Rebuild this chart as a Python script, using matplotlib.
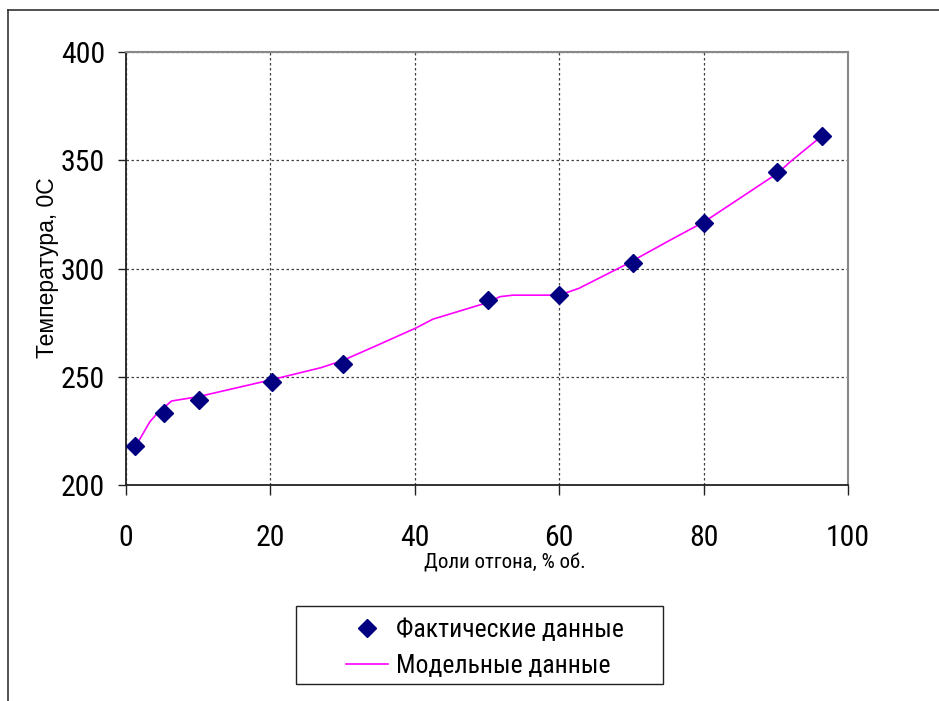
import numpy as np
import matplotlib
matplotlib.use("Agg")
import matplotlib.pyplot as plt
from matplotlib import font_manager
from matplotlib.lines import Line2D
from matplotlib.patches import Rectangle

# Фактические данные (measured points)
fact_x = [1.2, 5.3, 10.1, 20.2, 30.1, 50.2, 60.0, 70.2, 80.1, 90.2, 96.4]
fact_y = [218.0, 233.4, 239.2, 247.7, 256.0, 285.3, 287.7, 302.6, 321.0, 344.5, 361.3]

# Модельные данные (model curve)
model_x = [1.7, 3.3, 4.3, 6.3, 10.0, 20.0, 27.0, 30.0, 34.3, 40.2, 42.5, 50.0,
           51.8, 53.6, 60.0, 62.7, 69.1, 75.3, 80.1, 90.2, 92.0, 96.4]
model_y = [220.0, 229.2, 233.0, 238.8, 240.8, 248.5, 254.2, 257.5, 263.8, 272.6, 276.6, 284.2,
           287.0, 287.7, 287.7, 290.8, 301.6, 313.0, 321.6, 343.9, 349.3, 361.3]

x_ticks = [0, 20, 40, 60, 80, 100]
y_ticks = [200, 250, 300, 350, 400]

# try to find a narrow font, otherwise shrink the regular one a bit
names = {f.name for f in font_manager.fontManager.ttflist}
narrow = None
for cand in ["Liberation Sans Narrow", "DejaVu Sans Condensed", "Roboto Condensed",
             "Open Sans Condensed", "Noto Sans Condensed"]:
    if cand in names:
        narrow = cand
        break
if narrow is None:
    narrow = "Liberation Sans"
    nscale = 0.88
else:
    nscale = 1.0
regular = "Liberation Sans"

fig = plt.figure(figsize=(9.39, 7.01), dpi=100)
ax = fig.add_axes([0.1342, 0.3081, 0.7689, 0.6177])

ax.plot(model_x, model_y, color="#FF00FF", lw=1.2, label="Модельные данные", zorder=3)
ax.plot(fact_x, fact_y, ls="none", marker="D", ms=9, color="#000080",
        label="Фактические данные", zorder=4)

ax.set_xlim(0, 100)
ax.set_ylim(200, 400)
ax.set_xticks(x_ticks)
ax.set_yticks(y_ticks)
ax.grid(True, color="#404040", lw=0.9, ls=(0, (2, 2)))
ax.set_axisbelow(True)

for s in ["left", "bottom"]:
    ax.spines[s].set_color("#222222")
    ax.spines[s].set_linewidth(1.3)
for s in ["top", "right"]:
    ax.spines[s].set_color("#888888")
    ax.spines[s].set_linewidth(1.5)

ax.tick_params(axis="y", direction="out", length=6, width=1, color="#222222", pad=9)
ax.tick_params(axis="x", direction="out", length=7, width=1, color="#222222", pad=21)
for lab in ax.get_xticklabels() + ax.get_yticklabels():
    lab.set_fontfamily(narrow)
    lab.set_fontsize(21.5 * nscale)

ax.set_xlabel("Доли отгона, % об.", fontfamily=narrow, fontsize=15 * nscale)
ax.xaxis.set_label_coords(0.525, -0.158)
ax.set_ylabel("Температура, 0С", fontfamily=regular, fontsize=16.5, va="center")
ax.yaxis.set_label_coords(-0.109, 0.503)

h, l = ax.get_legend_handles_labels()
leg = fig.legend(h[::-1], l[::-1], loc="center", bbox_to_anchor=(485 / 939, 1 - 648 / 701),
                 frameon=False, prop={"family": narrow, "size": 18.5 * nscale},
                 handlelength=1.65, handletextpad=0.3, labelspacing=0.5)

# legend box
fig.add_artist(Rectangle((296 / 939, 1 - 684 / 701), 367 / 939, 78 / 701,
                         transform=fig.transFigure, fill=False, ec="#222222", lw=1))

# outer frame (left and top edges only)
fig.add_artist(Line2D([7.5 / 939, 7.5 / 939], [0, 1 - 10 / 701], transform=fig.transFigure,
                      color="#333333", lw=1.2))
fig.add_artist(Line2D([7.5 / 939, 1], [1 - 10 / 701, 1 - 10 / 701], transform=fig.transFigure,
                      color="#333333", lw=1.2))

fig.savefig("out.png", dpi=100)
